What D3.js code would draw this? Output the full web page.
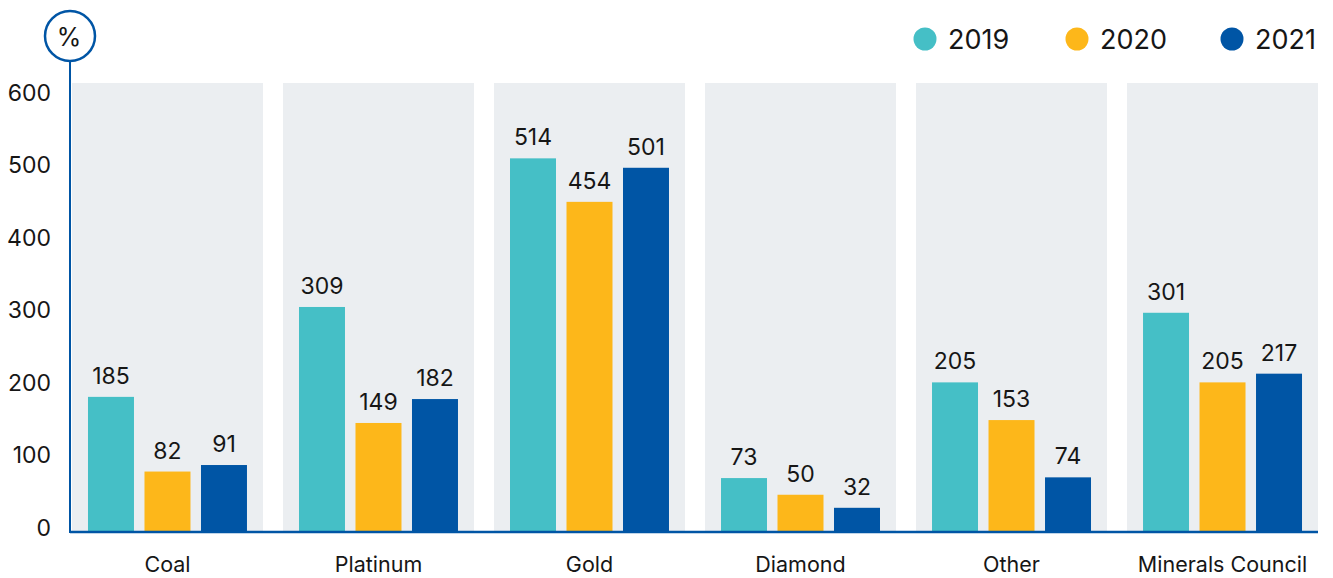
<!DOCTYPE html>
<html><head><meta charset="utf-8">
<script src="https://cdn.jsdelivr.net/npm/d3@7"></script>
<style>body{margin:0;background:#fff;} text{font-family:Inter, "Noto Sans", sans-serif;fill:#161616;}</style>
</head><body><svg id="c" width="1333" height="578"></svg>
<script>
const categories = ["Coal","Platinum","Gold","Diamond","Other","Minerals Council"];
const years = ["2019","2020","2021"];
const v2019 = [185,309,514,73,205,301];
const v2020 = [82,149,454,50,153,205];
const v2021 = [91,182,501,32,74,217];
const yTicks = [0,100,200,300,400,500,600];
const colors = ["#45BFC6","#FDB71A","#0055A5"];
const series = [v2019,v2020,v2021];

const svg = d3.select("#c");
const x = d3.scaleBand().domain(categories).range([72,1318]).paddingInner(0.095).paddingOuter(0);
const y = d3.scaleLinear().domain([0,600]).range([531,96]);
const xi = d3.scaleBand().domain(years).range([0,x.bandwidth()]).paddingInner(0.186).paddingOuter(0.283);

// panels
svg.append("g").selectAll("rect").data(categories).join("rect")
  .attr("x",d=>x(d)).attr("width",x.bandwidth()).attr("y",83).attr("height",531-83).attr("fill","#EBEEF1");

// bars
const g = svg.append("g");
series.forEach((vals,si)=>{
  g.selectAll(".b"+si).data(categories).join("rect")
    .attr("x",d=>x(d)+xi(years[si])).attr("width",xi.bandwidth())
    .attr("y",(d,i)=>y(vals[i])).attr("height",(d,i)=>y(0)-y(vals[i])).attr("fill",colors[si]);
  g.selectAll(".l"+si).data(categories).join("text")
    .attr("x",d=>x(d)+xi(years[si])+xi.bandwidth()/2).attr("y",(d,i)=>y(vals[i])-13)
    .attr("text-anchor","middle").attr("font-size",23).text((d,i)=>vals[i]);
});

// y axis tick labels
const ya = svg.append("g").attr("transform","translate(51,-4)")
  .call(d3.axisLeft(y).tickValues(yTicks).tickSize(0).tickPadding(0));
ya.select(".domain").remove();
ya.selectAll("text").attr("font-size",23).attr("fill","#161616").style("font-family","Inter, sans-serif").attr("dy","0.36em");

// x axis labels
const xa = svg.append("g").attr("transform","translate(0,572)")
  .call(d3.axisBottom(x).tickSize(0).tickPadding(0));
xa.select(".domain").remove();
xa.selectAll("text").attr("font-size",21.5).attr("fill","#161616").style("font-family","Inter, sans-serif").attr("dy",0);

// axis lines
svg.append("line").attr("x1",70).attr("x2",1318).attr("y1",532).attr("y2",532).attr("stroke","#0055A5").attr("stroke-width",2.5);
svg.append("line").attr("x1",70).attr("x2",70).attr("y1",62).attr("y2",533).attr("stroke","#0055A5").attr("stroke-width",2);
svg.append("circle").attr("cx",70).attr("cy",36).attr("r",25).attr("fill","#fff").attr("stroke","#0055A5").attr("stroke-width",2.5);
svg.append("text").attr("x",69).attr("y",37).attr("dy","0.35em").attr("text-anchor","middle").attr("font-size",25).text("%");

// legend
const lx = [925,1077,1232];
const lg = svg.append("g");
years.forEach((yr,i)=>{
  lg.append("circle").attr("cx",lx[i]).attr("cy",39).attr("r",11.5).attr("fill",colors[i]);
  lg.append("text").attr("x",lx[i]+23).attr("y",39).attr("dy","0.36em").attr("font-size",27).text(yr);
});
</script></body></html>
